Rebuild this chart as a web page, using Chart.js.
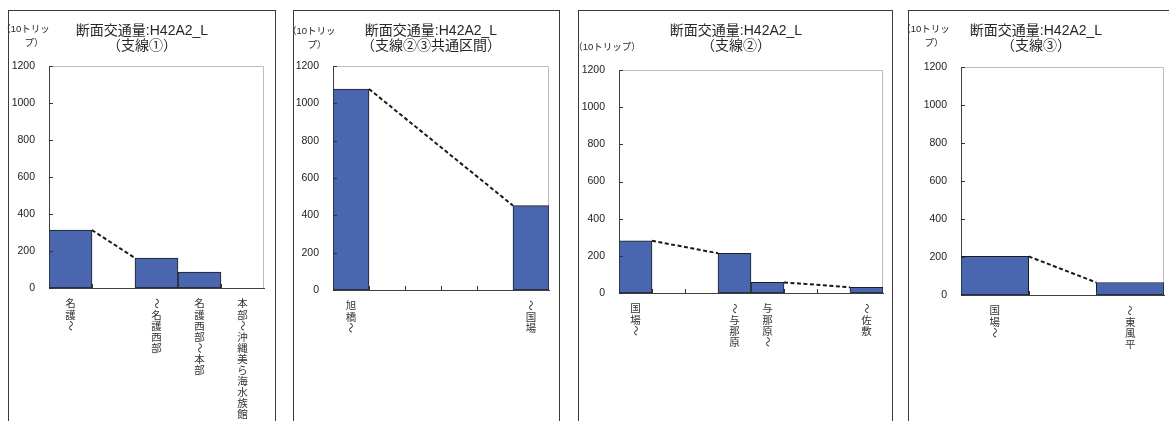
<!DOCTYPE html>
<html lang="ja">
<head>
<meta charset="utf-8">
<title>断面交通量 H42A2_L</title>
<script src="https://cdn.jsdelivr.net/npm/chart.js@4.4.1/dist/chart.umd.min.js"></script>
<style>
  html, body { margin: 0; padding: 0; background: #fff; width: 1169px; height: 421px; overflow: hidden; position: relative; }
  .frame { position: absolute; top: 10px; height: 440px; border: 1px solid #3a3a3a; box-sizing: border-box; }
  canvas { position: absolute; top: 0; }
</style>
</head>
<body>
<script>
// 断面交通量（単位：10トリップ）— 区間ごとの値
const mainTitle = '断面交通量:H42A2_L';
const subTitles = ['（支線①）', '（支線②③共通区間）', '（支線②）', '（支線③）'];
const unitFull = '（10トリップ）';
const unitWrapped = ['（10トリッ', 'プ）'];
const yTicks = [0, 200, 400, 600, 800, 1000, 1200];

// 支線①
const sections1 = ['名護～', '', '～名護西部', '名護西部～本部', '本部～沖縄美ら海水族館'];
const volume1 = [313, null, 162, 86, null];
const linkX1 = [0.5, 1.5];
const linkY1 = [313, 162];

// 支線②③共通区間
const sections2 = ['旭橋～', '', '', '', '', '～国場'];
const volume2 = [1077, null, null, null, null, 452];
const linkX2 = [0.5, 4.5];
const linkY2 = [1077, 452];

// 支線②
const sections3 = ['国場～', '', '', '～与那原', '与那原～', '', '', '～佐敷'];
const volume3 = [281, null, null, 214, 57, null, null, 31];
const linkX3 = [0.5, 2.5, 3.5, 4.5, 6.5];
const linkY3 = [281, 214, null, 57, 31];

// 支線③
const sections4 = ['国場～', '', '～東風平'];
const volume4 = [203, null, 66];
const linkX4 = [0.5, 1.5];
const linkY4 = [203, 66];

// page layout of the four panels (page pixels)
const panels = [
  { sections: sections1, volume: volume1, linkX: linkX1, linkY: linkY1, sub: subTitles[0],
    frameLeft: 8, frameWidth: 268, plot: { l: 49, r: 264, t: 66, b: 288 }, titleX: 142,
    unit: [{ text: unitWrapped[0], x: 1.3, y: 29 }, { text: unitWrapped[1], x: 24.5, y: 43 }] },
  { sections: sections2, volume: volume2, linkX: linkX2, linkY: linkY2, sub: subTitles[1],
    frameLeft: 293, frameWidth: 267, plot: { l: 333, r: 549, t: 66, b: 290 }, titleX: 431,
    unit: [{ text: unitWrapped[0], x: 287, y: 31.5 }, { text: unitWrapped[1], x: 307.5, y: 45 }] },
  { sections: sections3, volume: volume3, linkX: linkX3, linkY: linkY3, sub: subTitles[2],
    frameLeft: 578, frameWidth: 315, plot: { l: 619, r: 883, t: 70, b: 293 }, titleX: 736,
    unit: [{ text: unitFull, x: 573.3, y: 47 }] },
  { sections: sections4, volume: volume4, linkX: linkX4, linkY: linkY4, sub: subTitles[3],
    frameLeft: 908, frameWidth: 270, plot: { l: 961, r: 1164, t: 67, b: 295 }, titleX: 1036,
    unit: [{ text: unitWrapped[0], x: 901.3, y: 29 }, { text: unitWrapped[1], x: 924.5, y: 43 }] }
];

const PAGE_H = 421;
const LATIN_CJK = '"Liberation Sans", "Noto Sans CJK JP", sans-serif';
const CJK = '"Noto Sans CJK JP", sans-serif';

// light top/right edges of the plot area
const plotEdges = {
  id: 'plotEdges',
  beforeDatasetsDraw(chart) {
    const { ctx, chartArea: a } = chart;
    ctx.save();
    ctx.strokeStyle = '#bdbdbd';
    ctx.lineWidth = 1;
    ctx.beginPath();
    ctx.moveTo(Math.round(a.left) + 0.5, Math.round(a.top) + 0.5);
    ctx.lineTo(Math.round(a.right) - 0.5, Math.round(a.top) + 0.5);
    ctx.lineTo(Math.round(a.right) - 0.5, Math.round(a.bottom));
    ctx.stroke();
    ctx.restore();
  }
};

// short tick marks pointing into the plot area
const innerTicks = {
  id: 'innerTicks',
  afterDatasetsDraw(chart) {
    const { ctx, chartArea: a, scales } = chart;
    ctx.save();
    ctx.strokeStyle = '#333';
    ctx.lineWidth = 1;
    ctx.beginPath();
    scales.y.ticks.forEach(t => {
      const y = Math.round(scales.y.getPixelForValue(t.value)) + 0.5;
      ctx.moveTo(a.left, y);
      ctx.lineTo(a.left + 4, y);
    });
    const n = chart.data.labels.length;
    for (let i = 0; i < n - 1; i++) {
      const x = Math.round(scales.xl.getPixelForValue(i + 0.5)) + 0.5;
      ctx.moveTo(x, a.bottom);
      ctx.lineTo(x, a.bottom - 4);
    }
    ctx.stroke();
    ctx.restore();
  }
};

// titles, unit caption and vertical section names
const panelText = {
  id: 'panelText',
  afterDraw(chart, args, opts) {
    const { ctx, chartArea: a } = chart;
    ctx.save();
    ctx.fillStyle = '#262626';
    ctx.textBaseline = 'middle';
    ctx.textAlign = 'center';
    ctx.font = '14px ' + LATIN_CJK;
    ctx.fillText(mainTitle, opts.titleX, 31);
    ctx.fillText(opts.sub, opts.titleX, 46);

    ctx.textAlign = 'left';
    ctx.font = '9.5px ' + LATIN_CJK;
    opts.unit.forEach(u => ctx.fillText(u.text, u.x, u.y));

    ctx.fillStyle = '#333';
    ctx.textAlign = 'center';
    ctx.font = '10.5px ' + CJK;
    const xs = chart.scales.x;
    chart.data.labels.forEach((label, i) => {
      const cx = xs.getPixelForValue(i);
      [...label].forEach((ch, k) => {
        const cy = a.bottom + 15.5 + k * 11.1;
        if (ch === '～') {
          ctx.save();
          ctx.translate(cx, cy);
          ctx.rotate(Math.PI / 2);
          ctx.fillText(ch, 0, 0);
          ctx.restore();
        } else {
          ctx.fillText(ch, cx, cy);
        }
      });
    });
    ctx.restore();
  }
};

panels.forEach(p => {
  const frame = document.createElement('div');
  frame.className = 'frame';
  frame.style.left = p.frameLeft + 'px';
  frame.style.width = p.frameWidth + 'px';
  document.body.appendChild(frame);

  const canvasLeft = p.frameLeft - 8;
  const canvasWidth = p.frameWidth + 16;
  const canvas = document.createElement('canvas');
  canvas.width = canvasWidth;
  canvas.height = PAGE_H;
  canvas.style.left = canvasLeft + 'px';
  canvas.style.width = canvasWidth + 'px';
  canvas.style.height = PAGE_H + 'px';
  document.body.appendChild(canvas);

  const n = p.sections.length;
  const X_AXIS_H = 10;

  new Chart(canvas.getContext('2d'), {
    type: 'bar',
    data: {
      labels: p.sections,
      datasets: [
        {
          type: 'line',
          data: p.linkX.map((x, i) => ({ x, y: p.linkY[i] })),
          xAxisID: 'xl',
          yAxisID: 'y',
          borderColor: '#1a1a1a',
          borderWidth: 2,
          borderDash: [4, 2.5],
          pointRadius: 0,
          fill: false,
          spanGaps: false,
          tension: 0
        },
        {
          type: 'bar',
          data: p.volume,
          xAxisID: 'x',
          yAxisID: 'y',
          grouped: false,
          backgroundColor: '#4966ae',
          borderColor: '#1e1e1e',
          borderWidth: 1,
          borderSkipped: false,
          barPercentage: 1,
          categoryPercentage: 1
        }
      ]
    },
    options: {
      responsive: false,
      animation: false,
      events: [],
      layout: {
        padding: {
          left: 0,
          right: canvasLeft + canvasWidth - p.plot.r,
          top: p.plot.t,
          bottom: PAGE_H - p.plot.b - X_AXIS_H
        }
      },
      plugins: {
        legend: { display: false },
        tooltip: { enabled: false },
        title: { display: false },
        panelText: {
          titleX: p.titleX - canvasLeft,
          sub: p.sub,
          unit: p.unit.map(u => ({ text: u.text, x: u.x - canvasLeft, y: u.y }))
        }
      },
      scales: {
        x: {
          type: 'category',
          offset: true,
          grid: { display: false, drawTicks: false, offset: true },
          border: { display: true, color: '#404040', width: 1 },
          ticks: { display: false },
          afterFit: s => { s.height = X_AXIS_H; }
        },
        xl: {
          type: 'linear',
          display: false,
          offset: false,
          grid: { offset: false },
          min: -0.5,
          max: n - 0.5
        },
        y: {
          min: yTicks[0],
          max: yTicks[yTicks.length - 1],
          afterBuildTicks: s => { s.ticks = yTicks.map(v => ({ value: v })); },
          grid: { display: false, drawTicks: false },
          border: { display: true, color: '#404040', width: 1 },
          ticks: {
            padding: 14,
            color: '#222',
            font: { family: LATIN_CJK, size: 10.5 },
            callback: v => String(v)
          },
          afterFit: s => { s.width = p.plot.l - canvasLeft; }
        }
      }
    },
    plugins: [plotEdges, innerTicks, panelText]
  });
});
</script>
</body>
</html>
